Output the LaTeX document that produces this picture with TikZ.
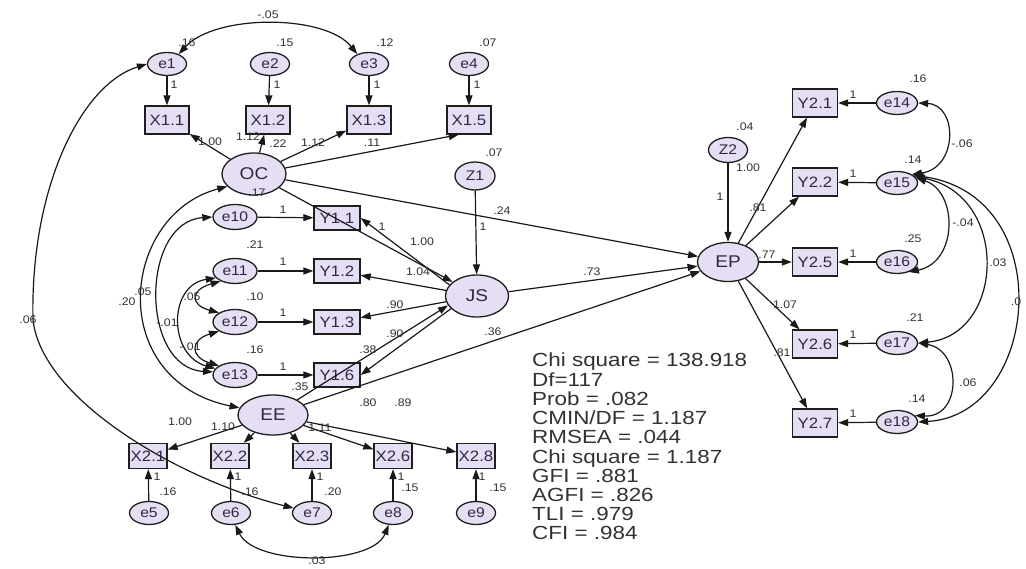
\documentclass[tikz,border=0pt]{standalone}
\usepackage{fontspec}
\setmainfont{Liberation Sans}[FakeStretch=1.12]
\newfontfamily\statfont{Liberation Sans}[FakeStretch=1.18]
\usetikzlibrary{arrows.meta,shapes.geometric}
\definecolor{nfill}{RGB}{230,222,242}
\definecolor{ndraw}{RGB}{30,30,30}
\definecolor{ntext}{RGB}{45,40,70}
\definecolor{ltext}{RGB}{50,50,50}
\begin{document}
\begin{tikzpicture}[x=1pt,y=-1pt,
  err/.style={ellipse,draw=ndraw,fill=nfill,line width=1.3pt,minimum width=39pt,minimum height=23pt,inner sep=0pt,font=\fontsize{14}{14}\selectfont,text=ntext},
  lat/.style={ellipse,draw=ndraw,fill=nfill,line width=1.3pt,inner sep=0pt,font=\fontsize{17}{17}\selectfont,text=ntext},
  obs/.style={rectangle,draw=ndraw,fill=nfill,line width=1.3pt,minimum width=44pt,minimum height=28pt,inner sep=0pt,font=\fontsize{15}{15}\selectfont,text=ntext},
  lbl/.style={font=\fontsize{11}{11}\selectfont,text=ltext,inner sep=0pt},
  stat/.style={font=\statfont\fontsize{19}{19}\selectfont,text=ltext,inner sep=0pt,anchor=base west},
  arr/.style={draw=black!90,line width=1.2pt,-{Triangle[length=10pt,width=7pt]}},
  cov/.style={draw=black!90,line width=1.2pt,{Triangle[length=10pt,width=7pt]}-{Triangle[length=10pt,width=7pt]}}]
\useasboundingbox[fill=white] (0,0) rectangle (1026,569);

% ---------- nodes: OC block
\node[err] (e1) at (167,64) {e1};
\node[err] (e2) at (270,64) {e2};
\node[err] (e3) at (369,64) {e3};
\node[err] (e4) at (469,64) {e4};
\node[obs] (X11) at (167,120) {X1.1};
\node[obs] (X12) at (268,120) {X1.2};
\node[obs] (X13) at (369,120) {X1.3};
\node[obs] (X15) at (469,120) {X1.5};
\node[lat,minimum width=64pt,minimum height=42pt] (OC) at (254,174) {OC};
\node[err,minimum width=40pt,minimum height=28pt] (Z1) at (475,176) {Z1};
% JS block
\node[err,minimum width=44pt,minimum height=25pt] (e10) at (235,217) {e10};
\node[err,minimum width=44pt,minimum height=25pt] (e11) at (235,271) {e11};
\node[err,minimum width=44pt,minimum height=25pt] (e12) at (235,322) {e12};
\node[err,minimum width=44pt,minimum height=25pt] (e13) at (235,375) {e13};
\node[obs,minimum width=46pt,minimum height=24pt] (Y11) at (337,218) {Y1.1};
\node[obs,minimum width=46pt,minimum height=24pt] (Y12) at (337,271) {Y1.2};
\node[obs,minimum width=46pt,minimum height=24pt] (Y13) at (337,322) {Y1.3};
\node[obs,minimum width=46pt,minimum height=24pt] (Y16) at (337,375) {Y1.6};
\node[lat,minimum width=63pt,minimum height=42pt] (JS) at (477,296) {JS};
% EE block
\node[lat,minimum width=70pt,minimum height=40pt] (EE) at (273,415) {EE};
\node[obs,minimum width=38pt,minimum height=25pt] (X21) at (148,456) {X2.1};
\node[obs,minimum width=38pt,minimum height=25pt] (X22) at (230,456) {X2.2};
\node[obs,minimum width=38pt,minimum height=25pt] (X23) at (312,456) {X2.3};
\node[obs,minimum width=38pt,minimum height=25pt] (X26) at (393,456) {X2.6};
\node[obs,minimum width=38pt,minimum height=25pt] (X28) at (476,456) {X2.8};
\node[err] (e5) at (149,513) {e5};
\node[err] (e6) at (231,513) {e6};
\node[err] (e7) at (312,513) {e7};
\node[err] (e8) at (393,513) {e8};
\node[err] (e9) at (476,513) {e9};
% EP block
\node[err,minimum width=39pt,minimum height=25pt] (Z2) at (728,150) {Z2};
\node[lat,minimum width=61pt,minimum height=39pt] (EP) at (728,262) {EP};
\node[obs,minimum width=45pt] (Y21) at (815,103) {Y2.1};
\node[obs,minimum width=45pt] (Y22) at (815,182) {Y2.2};
\node[obs,minimum width=45pt] (Y25) at (815,262) {Y2.5};
\node[obs,minimum width=45pt] (Y26) at (815,344) {Y2.6};
\node[obs,minimum width=45pt] (Y27) at (815,423) {Y2.7};
\node[err,minimum width=41pt] (e14) at (897,103) {e14};
\node[err,minimum width=41pt] (e15) at (897,183) {e15};
\node[err,minimum width=41pt] (e16) at (897,262) {e16};
\node[err,minimum width=41pt] (e17) at (897,343) {e17};
\node[err,minimum width=41pt] (e18) at (897,422) {e18};

% ---------- connectors
\draw[arr] (e1) -- (X11);
\draw[arr] (e2) -- (X12);
\draw[arr] (e3) -- (X13);
\draw[arr] (e4) -- (X15);
\draw[arr] (OC) -- (X11);
\draw[arr] (OC) -- (X12);
\draw[arr] (OC) -- (X13);
\draw[arr] (OC) -- (X15.235);
\draw[cov] (e1.40) .. controls (215,14) and (325,14) .. (e3.140);
\coordinate (c1) at (33,320);
\draw[cov] (e1.west) .. controls (80,85) and (30,190) .. (c1) .. controls (42,400) and (180,480) .. (e7.165);
\draw[cov] (OC.205) .. controls (120,215) and (105,380) .. (EE.168);
\draw[cov] (e10.west) .. controls (140,222) and (140,368) .. (e13.172);
\draw[cov] (e11.215) .. controls (190,290) and (190,305) .. (e12.150);
\draw[cov] (e12.210) .. controls (190,340) and (190,357) .. (e13.150);
\draw[cov] (e11.200) .. controls (168,285) and (168,355) .. (e13.162);
\draw[arr] (e10) -- (Y11);
\draw[arr] (e11) -- (Y12);
\draw[arr] (e12) -- (Y13);
\draw[arr] (e13) -- (Y16);
\draw[arr] (OC) -- (JS.150);
\draw[arr] (JS.158) -- (Y11.east);
\draw[arr] (JS) -- (Y12);
\draw[arr] (JS) -- (Y13);
\draw[arr] (JS.206) -- (Y16.east);
\draw[arr] (EE) -- (JS.198);
\draw[arr] (Z1) -- (JS);
\draw[arr] (OC) -- (EP);
\draw[arr] (JS) -- (EP);
\draw[arr] (EE) -- (EP);
\draw[arr] (EE) -- (X21);
\draw[arr] (EE) -- (X22);
\draw[arr] (EE) -- (X23);
\draw[arr] (EE) -- (X26);
\draw[arr] (EE) -- (X28);
\draw[arr] (e5) -- (X21);
\draw[arr] (e6) -- (X22);
\draw[arr] (e7) -- (X23);
\draw[arr] (e8) -- (X26);
\draw[arr] (e9) -- (X28);
\draw[cov] (e6.290) .. controls (255,566) and (372,566) .. (e8.250);
\draw[arr] (Z2) -- (EP);
\draw[arr] (EP) -- (Y21);
\draw[arr] (EP) -- (Y22);
\draw[arr] (EP) -- (Y25);
\draw[arr] (EP) -- (Y26);
\draw[arr] (EP) -- (Y27);
\draw[arr] (e14) -- (Y21);
\draw[arr] (e15) -- (Y22);
\draw[arr] (e16) -- (Y25);
\draw[arr] (e17) -- (Y26);
\draw[arr] (e18) -- (Y27);
\draw[cov] (e14.east) .. controls (958,105) and (958,168) .. (e15.30);
\draw[cov] (e15.15) .. controls (958,192) and (958,262) .. (e16.320);
\draw[cov] (e15.20) .. controls (1010,195) and (1005,335) .. (e17.east);
\draw[cov] (e15.25) .. controls (1060,195) and (1040,415) .. (e18.east);
\draw[cov] (e17.east) .. controls (962,350) and (962,418) .. (e18.20);

% ---------- labels
\foreach \x/\y/\t [count=\i] in {
 187/43/{.16}, 285/43/{.15}, 385/43/{.12}, 488/43/{.07}, 268/15/{-.05},
 174/85/{1}, 277/85/{1}, 377/85/{1}, 477/85/{1},
 210/142/{1.00}, 248/137/{1.12}, 278/144/{.22}, 313/143/{1.12}, 372/143/{.11},
 494/153/{.07}, 257/193/{.17}, 255/245/{.21}, 255/297/{.10}, 255/350/{.16},
 283/210/{1}, 283/262/{1}, 283/313/{1}, 283/367/{1},
 127/302/{.20}, 143/292/{.05}, 192/297/{.05}, 167/323/{-.01}, 190/347/{-.01},
 28/320/{.06}, 502/211/{.24}, 483/227/{1}, 382/227/{1}, 422/242/{1.00},
 418/272/{1.04}, 395/305/{.90}, 395/334/{.90}, 368/350/{.38}, 300/387/{.35},
 592/272/{.73}, 493/332/{.36},
 180/422/{1.00}, 223/427/{1.10}, 320/428/{1.11}, 368/403/{.80}, 403/403/{.89},
 157/477/{1}, 238/477/{1}, 320/477/{1}, 401/477/{1}, 482/477/{1},
 168/492/{.16}, 250/492/{.16}, 333/492/{.20}, 410/488/{.15}, 498/488/{.15},
 317/561/{.03},
 745/127/{.04}, 748/168/{1.00}, 720/197/{1}, 758/208/{.81}, 767/255/{.77},
 785/305/{1.07}, 782/353/{.81},
 853/95/{1}, 853/174/{1}, 853/254/{1}, 853/335/{1}, 853/414/{1},
 918/79/{.16}, 913/160/{.14}, 913/239/{.25}, 915/318/{.21}, 917/399/{.14},
 962/144/{-.06}, 963/223/{-.04}, 998/263/{.03}, 1016/302/{.0}, 968/383/{.06}}
 \node[lbl] (lab\i) at (\x,\y) {\t};

% ---------- fit statistics
\foreach \t [count=\i] in {Chi square = 138.918, Df=117, Prob = .082, CMIN/DF = 1.187,
  RMSEA = .044, Chi square = 1.187, GFI = .881, AGFI = .826, TLI = .979, CFI = .984}
  \node[stat] (stat\i) at (532,{367+19.2*(\i-1)}) {\t};
\end{tikzpicture}
\end{document}
